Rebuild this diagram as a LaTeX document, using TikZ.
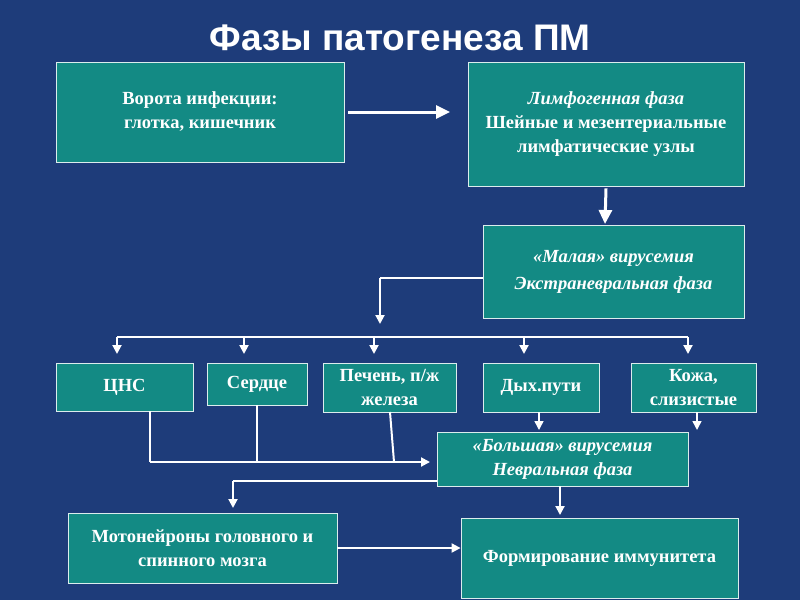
\documentclass[tikz,border=0pt]{standalone}
\usepackage{fontspec}
\setmainfont{Liberation Serif}
\newfontfamily\titlefont{Liberation Sans}
\usetikzlibrary{arrows.meta}
\definecolor{bg}{HTML}{1E3C7A}
\definecolor{boxc}{HTML}{138A84}
\tikzset{
 bx/.style={draw=white!85!boxc,line width=0.8pt,fill=boxc,text=white,font=\bfseries\fontsize{18.5}{24}\selectfont,align=center,inner sep=0pt},
 ln/.style={white,line width=2pt},
 ar/.style={white,line width=2pt,-{Triangle[width=9pt,length=9pt]}},
 big/.style={white,line width=3pt,-{Triangle[width=13pt,length=14pt]}}
}
\begin{document}
\begin{tikzpicture}[x=1pt,y=-1pt]
\fill[bg] (0,0) rectangle (800,600);
\useasboundingbox (0,0) rectangle (800,600);
\node[text=white,font=\titlefont\bfseries\fontsize{37}{42}\selectfont] (t) at (400,38) {Фазы патогенеза ПМ};
\newcommand\mybox[6]{\node[bx,minimum width=#4-#2,minimum height=#5-#3] (#1) at ({(#2+#4)/2},{(#3+#5)/2}) {#6};}
\mybox{b1}{56}{62}{344}{162}{Ворота инфекции:\\глотка, кишечник}
\mybox{b2}{468}{62}{744}{186}{\textit{Лимфогенная фаза}\\Шейные и мезентериальные\\лимфатические узлы}
\mybox{b3}{483}{225}{744}{318}{\textit{«Малая» вирусемия}\\[3pt]\textit{Экстраневральная фаза}}
\mybox{c1}{56}{363}{193}{411}{ЦНС}
\mybox{c2}{207}{363}{307}{405}{Сердце}
\mybox{c3}{323}{363}{456}{412}{Печень, п/ж\\железа}
\mybox{c4}{483}{363}{599}{412}{Дых.пути}
\mybox{c5}{631}{363}{756}{412}{Кожа,\\слизистые}
\mybox{d}{437}{432}{688}{486}{\textit{«Большая» вирусемия}\\\textit{Невральная фаза}}
\mybox{m}{68}{513}{337}{583}{Мотонейроны головного и\\спинного мозга}
\mybox{f}{461}{518}{738}{598}{Формирование иммунитета}
\draw[big] (b1.east) ++(4,0) -- (450,112);
\draw[big] (b2.south) ++(0,2) -- (605,224);
\coordinate (bus) at (380,278);
\draw[ln] (b3.west|-bus) -- (bus);
\draw[ar] (bus) -- (380,324);
\draw[ln] (117,337) -- (688,337);
\foreach \x in {117,244,374,524,688} \draw[ar] (\x,337) -- (\x,354);
\draw[ar,line width=1.5pt] (539,412) -- (539,430);
\draw[ar,line width=1.5pt] (697,412) -- (697,430);
\draw[ln] (150,411) -- (150,462);
\draw[ln] (257,405) -- (257,462);
\draw[ln] (390,412) -- (394,462);
\draw[ar] (150,462) -- (430,462);
\draw[ln] (437,481) -- (233,481);
\draw[ar] (233,481) -- (233,508);
\draw[ar] (560,486) -- (560,515);
\coordinate (mf) at (337,548);
\draw[ar] (mf) -- (f.west|-mf);
\end{tikzpicture}
\end{document}
